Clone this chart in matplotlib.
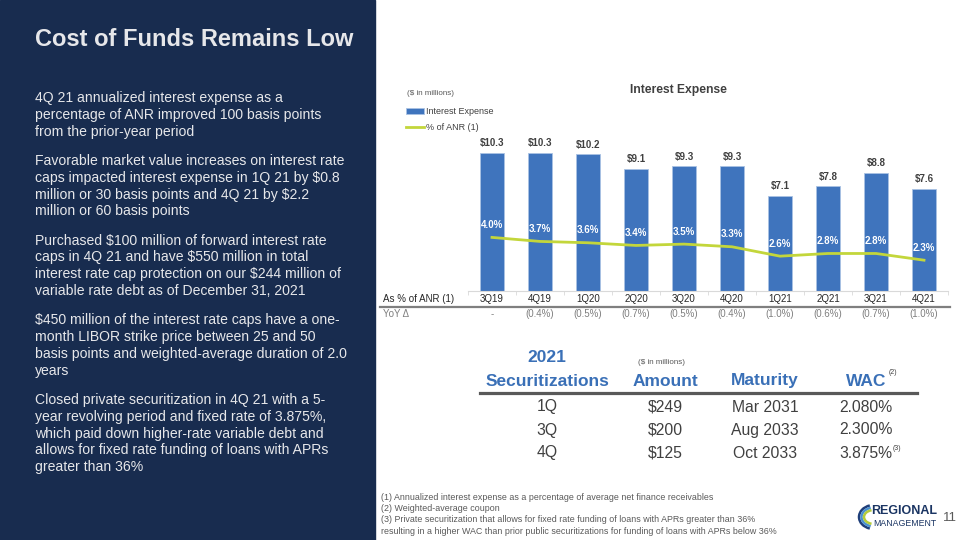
import matplotlib.pyplot as plt
import matplotlib.patches as mpatches
import numpy as np

plt.rcParams['font.family'] = ['Liberation Sans', 'DejaVu Sans']
plt.rcParams['text.parse_math'] = False

# ---- data ----
quarters = ['3Q19', '4Q19', '1Q20', '2Q20', '3Q20', '4Q20', '1Q21', '2Q21', '3Q21', '4Q21']
interest_expense = [10.3, 10.3, 10.2, 9.1, 9.3, 9.3, 7.1, 7.8, 8.8, 7.6]   # $ millions
pct_of_anr = [4.0, 3.7, 3.6, 3.4, 3.5, 3.3, 2.6, 2.8, 2.8, 2.3]           # %
yoy_change = ['-', '(0.4%)', '(0.5%)', '(0.7%)', '(0.5%)', '(0.4%)',
              '(1.0%)', '(0.6%)', '(0.7%)', '(1.0%)']

sec_quarter = ['1Q', '3Q', '4Q']
sec_amount = ['$249', '$200', '$125']
sec_maturity = ['Mar 2031', 'Aug 2033', 'Oct 2033']
sec_wac = ['2.080%', '2.300%', '3.875%']

bullets = [
    ["4Q 21 annualized interest expense as a",
     "percentage of ANR improved 100 basis points",
     "from the prior-year period"],
    ["Favorable market value increases on interest rate",
     "caps impacted interest expense in 1Q 21 by $0.8",
     "million or 30 basis points and 4Q 21 by $2.2",
     "million or 60 basis points"],
    ["Purchased $100 million of forward interest rate",
     "caps in 4Q 21 and have $550 million in total",
     "interest rate cap protection on our $244 million of",
     "variable rate debt as of December 31, 2021"],
    ["$450 million of the interest rate caps have a one-",
     "month LIBOR strike price between 25 and 50",
     "basis points and weighted-average duration of 2.0",
     "years"],
    ["Closed private securitization in 4Q 21 with a 5-",
     "year revolving period and fixed rate of 3.875%,",
     "which paid down higher-rate variable debt and",
     "allows for fixed rate funding of loans with APRs",
     "greater than 36%"],
]

footnotes = [
    "(1) Annualized interest expense as a percentage of average net finance receivables",
    "(2) Weighted-average coupon",
    "(3) Private securitization that allows for fixed rate funding of loans with APRs greater than 36%",
    "resulting in a higher WAC than prior public securitizations for funding of loans with APRs below 36%",
]

NAVY = '#182C4F'
BLUE = '#3F74BD'
LIME = '#C3D63B'
DARK = '#404040'
GREY = '#7F7F7F'
HEAD_BLUE = '#3A70B7'


def fx(px):
    return px / 960


def fy(py):
    return 1 - py / 540


fig = plt.figure(figsize=(9.6, 5.4), dpi=100)

# overlay in pixel coords for panel / rules / logo
ov = fig.add_axes([0, 0, 1, 1], zorder=0)
ov.set_xlim(0, 960)
ov.set_ylim(540, 0)
ov.axis('off')
ov.add_patch(mpatches.Rectangle((0, 0), 375, 540, color=NAVY))

# left panel text
fig.text(fx(35), fy(40), "Cost of Funds Remains Low", color='#E6E7EA',
         fontsize=17, fontweight='bold', va='center', ha='left')
y = 98
for para in bullets:
    for line in para:
        fig.text(fx(35), fy(y), line, color='#E6E7EA', fontsize=10.1,
                 va='center', ha='left')
        y += 16.8
    y += 12.5

# ---- interest expense chart ----
ax = fig.add_axes([fx(468), fy(291), 480 / 960, 151 / 540], zorder=2)
ax.patch.set_alpha(0)
x = np.arange(len(quarters))
bars = ax.bar(x, interest_expense, width=0.5, color=BLUE, edgecolor='#A9C2E3',
              linewidth=0.6, label='Interest Expense')
line, = ax.plot(x, pct_of_anr, color=LIME, lw=2, label='% of ANR (1)')
ax.set_xlim(-0.5, len(quarters) - 0.5)
ax.set_ylim(0, 11.27)

for xi, v in zip(x, interest_expense):
    ax.annotate(f'${v:.1f}', (xi, v), xytext=(0, 7), textcoords='offset points',
                ha='center', va='center', fontsize=7, fontweight='bold', color=DARK)
for xi, p in zip(x, pct_of_anr):
    ax.annotate(f'{p:.1f}%', (xi, p), xytext=(0, 9), textcoords='offset points',
                ha='center', va='center', fontsize=7, fontweight='bold', color='white')

for s in ['top', 'left', 'right']:
    ax.spines[s].set_visible(False)
ax.spines['bottom'].set_color('#D9D9D9')
ax.set_yticks([])
ax.set_xticks(x, quarters)
ax.set_xticks(np.arange(-0.5, len(quarters)), minor=True)
ax.tick_params(axis='x', which='major', length=0, pad=2.5, labelsize=7, labelcolor='#262626')
ax.tick_params(axis='x', which='minor', length=3, color='#D9D9D9')

fig.text(fx(678), fy(90), "Interest Expense", fontsize=8.7, fontweight='bold',
         color=DARK, ha='center', va='center')
fig.text(fx(407), fy(93), "($ in millions)", fontsize=5.8, color='#595959',
         ha='left', va='center')
fig.legend(handles=[bars, line], labels=['Interest Expense', '% of ANR (1)'],
           loc='upper left', bbox_to_anchor=(fx(406), fy(107)), frameon=False,
           fontsize=6.5, handlelength=2.0, handletextpad=0.25, labelspacing=0.75,
           borderaxespad=0, borderpad=0, labelcolor=DARK)

fig.text(fx(383), fy(299), "As % of ANR (1)", fontsize=7, color='#262626',
         ha='left', va='center')
ov.plot([380, 950], [306.5, 306.5], color=GREY, lw=1.6)
fig.text(fx(383), fy(314), "YoY \u0394", fontsize=7, color=GREY, ha='left', va='center')
for xi, t in zip(x, yoy_change):
    ax.annotate(t, (xi, 0), xycoords=('data', 'axes fraction'), xytext=(0, -16.5),
                textcoords='offset points', ha='center', va='center',
                fontsize=7, color=GREY, annotation_clip=False)

# ---- securitization table ----
cols = [547, 665, 765, 866]
fig.text(fx(cols[0]), fy(357), "2021", fontsize=12.5, fontweight='bold',
         color=HEAD_BLUE, ha='center', va='center')
for cx, h in zip(cols, ['Securitizations', 'Amount', 'Maturity', 'WAC']):
    fig.text(fx(cx), fy(381), h, fontsize=12.5, fontweight='bold',
             color=HEAD_BLUE, ha='center', va='center')
fig.text(fx(662), fy(363), "($ in millions)", fontsize=5.8, color='#595959',
         ha='center', va='center')
fig.text(fx(893), fy(373), "(2)", fontsize=5, color=DARK, ha='center', va='center')
ov.plot([480, 917], [393, 393], color='#595959', lw=2.3)

row_y = [407, 430, 453]
for ry, q, a, m, w in zip(row_y, sec_quarter, sec_amount, sec_maturity, sec_wac):
    for cx, t in zip(cols, [q, a, m, w]):
        fig.text(fx(cx), fy(ry), t, fontsize=11.3, color=DARK, ha='center', va='center')
fig.text(fx(897), fy(448), "(3)", fontsize=5, color=DARK, ha='center', va='center')

# ---- footnotes ----
for i, t in enumerate(footnotes):
    fig.text(fx(381), fy(497 + i * 11.4), t, fontsize=6.4, color='#595959',
             ha='left', va='center')

# ---- logo + page number ----
for w, h, c in [(30, 24, '#1F3F7A'), (25, 19, '#4A90D0'), (20, 14, '#B5CC3A')]:
    ov.add_patch(mpatches.Arc((874, 517), w, h, theta1=110, theta2=250, color=c, lw=1.8))
fig.text(fx(904), fy(511), "REGIONAL", fontsize=9, fontweight='bold', color='#1B3563',
         ha='center', va='center')
fig.text(fx(905), fy(523), "MANAGEMENT", fontsize=6.3, color='#1B3563',
         ha='center', va='center')
fig.text(fx(950), fy(518), "11", fontsize=9.5, color='#595959', ha='center', va='center')

fig.savefig('out.png', dpi=100)
